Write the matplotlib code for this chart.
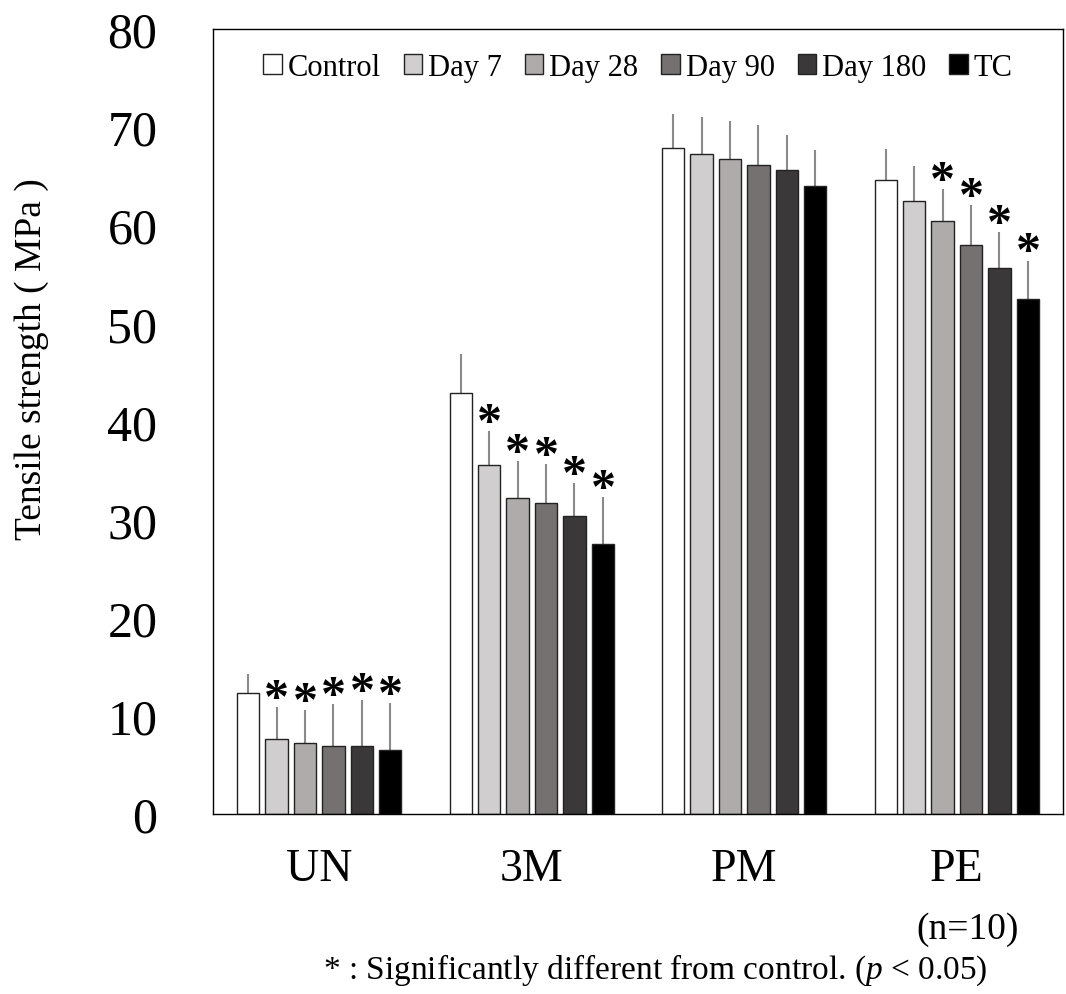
import matplotlib
matplotlib.use("Agg")
import matplotlib.pyplot as plt
import numpy as np

plt.rcParams['font.family'] = ['Liberation Serif', 'DejaVu Serif']
plt.rcParams['mathtext.fontset'] = 'custom'
plt.rcParams['mathtext.rm'] = 'Liberation Serif'
plt.rcParams['mathtext.it'] = 'Liberation Serif:italic'

materials = ["UN", "3M", "PM", "PE"]
series = ["Control", "Day 7", "Day 28", "Day 90", "Day 180", "TC"]
colors = ["#ffffff", "#d0cece", "#afabab", "#767171", "#3a3838", "#000000"]

# mean tensile strength (MPa), one list per series, order = materials
control = [12.3, 42.9, 67.9, 64.6]
day7 = [7.6, 35.6, 67.3, 62.5]
day28 = [7.2, 32.2, 66.8, 60.4]
day90 = [6.9, 31.7, 66.1, 58.0]
day180 = [6.9, 30.4, 65.6, 55.6]
tc = [6.5, 27.5, 64.0, 52.5]

# SD (upper only)
control_sd = [2.0, 4.0, 3.4, 3.2]
day7_sd = [3.3, 3.4, 3.7, 3.5]
day28_sd = [3.4, 3.8, 3.8, 3.3]
day90_sd = [4.3, 4.0, 4.1, 4.1]
day180_sd = [4.7, 3.3, 3.6, 3.7]
tc_sd = [4.8, 4.8, 3.7, 3.9]

# significance marks
control_sig = [False, False, False, False]
day7_sig = [True, True, False, False]
day28_sig = [True, True, False, True]
day90_sig = [True, True, False, True]
day180_sig = [True, True, False, True]
tc_sig = [True, True, False, True]

means = [control, day7, day28, day90, day180, tc]
sds = [control_sd, day7_sd, day28_sd, day90_sd, day180_sd, tc_sd]
sigs = [control_sig, day7_sig, day28_sig, day90_sig, day180_sig, tc_sig]

fig = plt.figure(figsize=(10.66, 9.95), dpi=100)
ax = fig.add_axes([213/1066, 1 - 815/995, 850/1066, 785/995])

x = np.arange(len(materials))
pitch = 0.134
width = 0.104
for i in range(len(series)):
    xs = x + (i - 2.5) * pitch
    ax.bar(xs, means[i], width, color=colors[i], edgecolor="#222222",
           linewidth=1.0, label=series[i], zorder=2)
    ax.errorbar(xs, means[i], yerr=[np.zeros(len(materials)), sds[i]],
                fmt='none', ecolor="#8a8a8a", elinewidth=1.5, capsize=0, zorder=1)
    for j in range(len(materials)):
        if sigs[i][j]:
            ax.text(xs[j], means[i][j] + sds[i][j] - 0.5, "*", ha='center',
                    va='baseline', fontsize=36, fontweight='bold')

ax.set_xlim(-0.5, 3.5)
ax.set_ylim(0, 80)
ax.set_yticks(range(0, 81, 10))
ax.set_xticks(x)
ax.set_xticklabels(materials, fontsize=33)
ax.tick_params(axis='y', labelsize=36, length=0, pad=40)
ax.tick_params(axis='x', length=0, pad=24)
for s in ax.spines.values():
    s.set_linewidth(1.0)
    s.set_color("#000000")

fig.text(32/1066, 1 - 359/995, "Tensile strength ( MPa )", rotation=90,
         ha='center', va='center', fontsize=27)

ax.legend(loc='upper center', ncol=6, frameon=False, fontsize=22,
          handlelength=0.6, handleheight=0.6, handletextpad=0.2,
          columnspacing=0.75, bbox_to_anchor=(0.5, 1.005))

fig.text(968/1066, 1 - 930/995, "(n=10)", ha='center', va='center', fontsize=27)
fig.text(655/1066, 1 - 970/995,
         "* : Significantly different from control. ($\\mathit{p}$ < 0.05)",
         ha='center', va='center', fontsize=24)

fig.savefig("out.png", dpi=100)
